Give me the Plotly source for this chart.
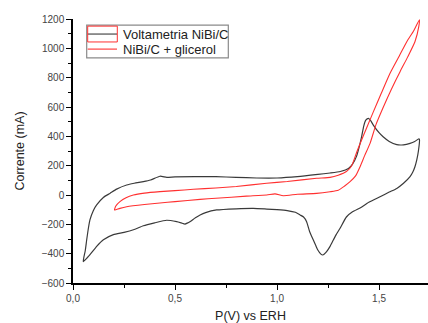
import plotly.graph_objects as go

# Black curve: Voltametria NiBi/C (anodic branch then cathodic return)
black_v = [0.05, 0.06, 0.067, 0.075, 0.083, 0.1, 0.116, 0.15, 0.181, 0.214, 0.263, 0.30, 0.345, 0.38,
           0.426, 0.46, 0.5, 0.6, 0.7, 0.8, 0.9, 1.0, 1.1, 1.2, 1.26, 1.31, 1.35, 1.37, 1.39, 1.405,
           1.415, 1.425, 1.435, 1.448, 1.46, 1.472, 1.5, 1.52, 1.55, 1.587, 1.62, 1.652, 1.675, 1.695,
           1.698, 1.693, 1.685, 1.676, 1.665, 1.652, 1.62, 1.587, 1.55, 1.505, 1.45, 1.407, 1.37, 1.34,
           1.309, 1.29, 1.276, 1.26, 1.243, 1.232, 1.224, 1.215, 1.2, 1.19, 1.178, 1.16, 1.145, 1.13,
           1.113, 1.09, 1.05, 1.0, 0.95, 0.884, 0.8, 0.704, 0.65, 0.623, 0.6, 0.575, 0.56, 0.549, 0.53,
           0.508, 0.459, 0.40, 0.345, 0.30, 0.25, 0.198, 0.149, 0.116, 0.09, 0.067, 0.05]
black_i = [-454, -380, -307, -230, -170, -105, -68, -15, 11, 40, 68, 80, 91, 102,
           128, 120, 124, 125, 125, 120, 116, 116, 125, 140, 150, 160, 180, 210, 265, 340,
           400, 470, 510, 523, 505, 477, 425, 397, 365, 343, 342, 352, 365, 383,
           380, 300, 240, 193, 155, 125, 80, 45, 20, -12, -50, -88, -115, -150,
           -227, -270, -307, -350, -386, -402, -409, -403, -375, -345, -307, -250, -182, -150,
           -136, -118, -106, -100, -96, -91, -94, -102, -120, -136, -155, -180, -192, -198, -190,
           -182, -172, -190, -210, -235, -255, -270, -305, -350, -395, -432, -454]

# Red curve: NiBi/C + glicerol
red_v = [0.203, 0.21, 0.23, 0.26, 0.296, 0.35, 0.426, 0.5, 0.59, 0.7, 0.8, 0.949, 1.05, 1.194,
         1.26, 1.3, 1.34, 1.366, 1.39, 1.41, 1.44, 1.47, 1.51, 1.554, 1.6, 1.636, 1.67, 1.698,
         1.695, 1.676, 1.64, 1.603, 1.56, 1.518, 1.485, 1.456, 1.43, 1.407, 1.385, 1.358, 1.33,
         1.3, 1.26, 1.194, 1.1, 1.031, 0.99, 0.95, 0.85, 0.7, 0.623, 0.5, 0.426, 0.35, 0.263,
         0.23, 0.21, 0.203]
red_i = [-102, -75, -45, -18, 0, 13, 23, 30, 39, 48, 58, 80, 92, 114,
         120, 135, 160, 200, 290, 360, 460, 560, 690, 830, 950, 1045, 1120, 1195,
         1150, 1045, 940, 841, 720, 590, 480, 352, 270, 193, 130, 91, 60,
         32, 22, 11, 5, -5, 8, 0, -8, -22, -30, -45, -55, -65, -80,
         -91, -100, -102]

series_names = ["Voltametria NiBi/C", "NiBi/C + glicerol"]
series_colors = ["#3a3a3a", "#ff3030"]

x_tickvals = [0.0, 0.5, 1.0, 1.5]
x_ticktext = ["0,0", "0,5", "1,0", "1,5"]
y_tickvals = [-600, -400, -200, 0, 200, 400, 600, 800, 1000, 1200]

FONT = "Liberation Sans, Arial, sans-serif"

fig = go.Figure()
fig.add_trace(go.Scatter(x=black_v, y=black_i, mode="lines", name=series_names[0], showlegend=False,
                         line=dict(color=series_colors[0], width=1.2, shape="spline", smoothing=0.5)))
fig.add_trace(go.Scatter(x=red_v, y=red_i, mode="lines", name=series_names[1], showlegend=False,
                         line=dict(color=series_colors[1], width=1.1, shape="spline", smoothing=0.5)))

axis_common = dict(showline=True, linecolor="black", linewidth=1.5, ticks="outside",
                   ticklen=5, tickwidth=1.2, tickcolor="black", showgrid=False, zeroline=False,
                   tickfont=dict(family=FONT, size=10, color="#444444"), automargin=False)

fig.update_xaxes(range=[0, 1.74], tickvals=x_tickvals, ticktext=x_ticktext,
                 minor=dict(ticks="outside", ticklen=3, tickwidth=1, tickcolor="black",
                            tickvals=[0.25, 0.75, 1.25]),
                 title=dict(text="P(V) vs ERH", font=dict(family=FONT, size=12.5, color="#222222"),
                            standoff=9),
                 **axis_common)
fig.update_yaxes(range=[-600, 1200], tickvals=y_tickvals,
                 minor=dict(ticks="outside", ticklen=3, tickwidth=1, tickcolor="black", dtick=100),
                 title=dict(text="Corrente (mA)", font=dict(family=FONT, size=12.5, color="#222222"),
                            standoff=14),
                 **axis_common)

# Legend box (drawn in paper coordinates, Origin-style)
legend_rows_y = [0.943, 0.886]
shapes = [dict(type="rect", xref="paper", yref="paper", x0=0.0386, x1=0.4375, y0=0.853, y1=0.977,
               line=dict(color="#8a8a8a", width=1.2), fillcolor="white", layer="above")]
for yy, col in zip(legend_rows_y, series_colors):
    shapes.append(dict(type="line", xref="paper", yref="paper", x0=0.0414, x1=0.124, y0=yy, y1=yy,
                       line=dict(color=col, width=1.1), layer="above"))
shapes.append(dict(type="rect", xref="paper", yref="paper", x0=0.0414, x1=0.1248, y0=0.913, y1=0.973,
                   line=dict(color="#ff3030", width=1), layer="above"))
annotations = [dict(text=nm, xref="paper", yref="paper", x=0.134, y=yy, xanchor="left", yanchor="middle",
                    showarrow=False, font=dict(family=FONT, size=13, color="#222222"))
               for nm, yy in zip(series_names, legend_rows_y)]

fig.update_layout(
    width=428, height=323,
    margin=dict(l=73, r=0, t=19, b=40),
    paper_bgcolor="white", plot_bgcolor="white",
    font=dict(family=FONT),
    shapes=shapes, annotations=annotations,
    showlegend=False,
)

fig.write_html("out.html", config={"displayModeBar": False},
               post_script="document.body.style.margin='0';document.body.style.overflow='hidden';")
